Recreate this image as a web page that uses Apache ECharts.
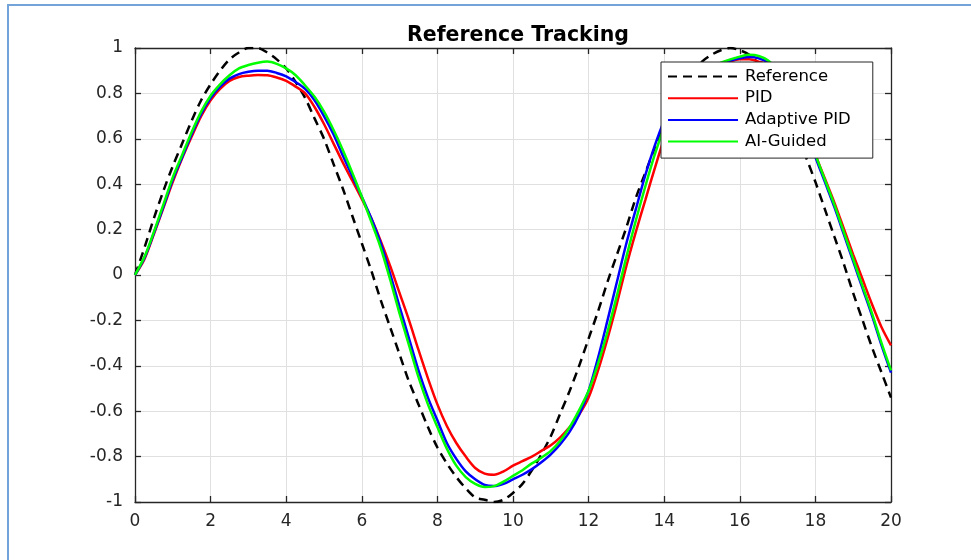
<!DOCTYPE html>
<html>
<head>
<meta charset="utf-8">
<script src="https://cdn.jsdelivr.net/npm/echarts@6/dist/echarts.min.js"></script>
<style>
html,body{margin:0;padding:0;background:#fff;}
#chart{width:971px;height:560px;}
</style>
</head>
<body>
<div id="chart"></div>
<script>
// ---- data (t step 0.25) ----
var time = [0,0.25,0.5,0.75, 1,1.25,1.5,1.75, 2,2.25,2.5,2.75, 3,3.25,3.5,3.75, 4,4.25,4.5,4.75,
  5,5.25,5.5,5.75, 6,6.25,6.5,6.75, 7,7.25,7.5,7.75, 8,8.25,8.5,8.75, 9,9.25,9.5,9.75,
  10,10.25,10.5,10.75, 11,11.25,11.5,11.75, 12,12.25,12.5,12.75, 13,13.25,13.5,13.75, 14,14.25,14.5,14.75,
  15,15.25,15.5,15.75, 16,16.25,16.5,16.75, 17,17.25,17.5,17.75, 18,18.25,18.5,18.75, 19,19.25,19.5,19.75, 20];
var referenceVals = [0,0.12,0.25,0.37, 0.48,0.58,0.68,0.77, 0.84,0.90,0.95,0.98, 1.0,1.0,0.98,0.95,
  0.91,0.85,0.78,0.69, 0.60,0.49,0.38,0.26, 0.14,0.02,-0.11,-0.23, -0.35,-0.47,-0.57,-0.67,
  -0.76,-0.83,-0.89,-0.94, -0.98,-0.99,-1.0,-0.99, -0.96,-0.92,-0.86,-0.79, -0.71,-0.61,-0.51,-0.40,
  -0.28,-0.16,-0.03,0.09, 0.21,0.34,0.45,0.56, 0.66,0.75,0.82,0.89, 0.94,0.97,0.99,1.0,
  0.99,0.97,0.93,0.87, 0.80,0.72,0.63,0.52, 0.41,0.29,0.17,0.05, -0.08,-0.20,-0.32,-0.43, -0.54];
var pidVals = [0,0.07,0.18,0.295, 0.41,0.515,0.61,0.70, 0.77,0.82,0.855,0.872, 0.878,0.881,0.88,0.87,
  0.855,0.83,0.80,0.74, 0.665,0.58,0.495,0.415, 0.335,0.25,0.15,0.04, -0.08,-0.20,-0.33,-0.455,
  -0.57,-0.665,-0.74,-0.80, -0.85,-0.875,-0.88,-0.865, -0.84,-0.82,-0.80,-0.775, -0.75,-0.715,-0.67,-0.615,
  -0.54,-0.42,-0.28,-0.125, 0.04,0.19,0.33,0.47, 0.60,0.70,0.78,0.83, 0.87,0.90,0.92,0.94,
  0.95,0.95,0.94,0.925, 0.89,0.825,0.74,0.64, 0.53,0.425,0.32,0.205, 0.09,-0.02,-0.13,-0.23, -0.31];
var adaptiveVals = [0,0.075,0.185,0.30, 0.42,0.52,0.62,0.71, 0.78,0.83,0.865,0.885, 0.895,0.90,0.90,0.89,
  0.875,0.85,0.82,0.77, 0.70,0.62,0.525,0.435, 0.345,0.25,0.14,0.005, -0.14,-0.28,-0.42,-0.54,
  -0.64,-0.74,-0.81,-0.865, -0.90,-0.925,-0.93,-0.92, -0.90,-0.88,-0.855,-0.825, -0.79,-0.745,-0.69,-0.615,
  -0.51,-0.365,-0.20,-0.03, 0.14,0.29,0.44,0.57, 0.68,0.76,0.82,0.86, 0.89,0.91,0.93,0.945,
  0.955,0.96,0.955,0.935, 0.895,0.83,0.75,0.64, 0.52,0.41,0.30,0.18, 0.06,-0.06,-0.18,-0.31, -0.43];
var aiVals = [0,0.08,0.19,0.31, 0.43,0.53,0.63,0.72, 0.79,0.84,0.88,0.91, 0.925,0.935,0.94,0.93,
  0.91,0.88,0.835,0.785, 0.72,0.64,0.55,0.45, 0.345,0.235,0.12,-0.02, -0.17,-0.31,-0.45,-0.57,
  -0.67,-0.765,-0.84,-0.89, -0.92,-0.934,-0.93,-0.91, -0.885,-0.86,-0.83,-0.805, -0.775,-0.73,-0.67,-0.595,
  -0.51,-0.39,-0.25,-0.09, 0.08,0.24,0.39,0.53, 0.65,0.74,0.81,0.855, 0.89,0.915,0.935,0.95,
  0.962,0.97,0.965,0.945, 0.905,0.84,0.76,0.65, 0.53,0.42,0.31,0.19, 0.07,-0.05,-0.17,-0.30, -0.42];
var seriesNames = ['Reference','PID','Adaptive PID','AI-Guided'];
var xTicks = [0,2,4,6,8,10,12,14,16,18,20];
var yTicks = [-1,-0.8,-0.6,-0.4,-0.2,0,0.2,0.4,0.6,0.8,1];
var titleText = 'Reference Tracking';

function pairs(vals){ return time.map(function(t,i){ return [t, vals[i]]; }); }

var FONT = 'DejaVu Sans';
var AX = '#262626';
var chart = echarts.init(document.getElementById('chart'), null, {renderer:'canvas'});

var baseX = {
  type:'value', min:xTicks[0], max:xTicks[xTicks.length-1], interval:2,
  axisLine:{show:true, onZero:false, lineStyle:{color:AX, width:1.3}},
  axisTick:{show:true, inside:true, length:6, lineStyle:{color:AX, width:1.3}},
  splitLine:{show:false}
};
var baseY = {
  type:'value', min:yTicks[0], max:yTicks[yTicks.length-1], interval:0.2,
  axisLine:{show:true, onZero:false, lineStyle:{color:AX, width:1.3}},
  axisTick:{show:true, inside:true, length:6, lineStyle:{color:AX, width:1.3}},
  splitLine:{show:false}
};

function lineSeries(name, vals, color, dashed){
  return {
    name:name, type:'line', data:pairs(vals), xAxisIndex:0, yAxisIndex:0,
    symbol:'none', showSymbol:false, smooth:0.3,
    silent:true, animation:false,
    lineStyle:{color:color, width:2.5, type: dashed ? [9,6] : 'solid'},
    itemStyle:{color:color}
  };
}

chart.setOption({
  backgroundColor:'#ffffff',
  animation:false,
  title:{
    text:titleText, left:513, top:20, textAlign:'center',
    textStyle:{fontFamily:FONT, fontSize:20.5, fontWeight:'bold', color:'#000'}
  },
  grid:{left:135, right:80, top:48, bottom:58, containLabel:false},
  xAxis:[
    Object.assign({}, baseX, {
      position:'bottom',
      axisLabel:{show:true, margin:11, color:AX, fontFamily:FONT, fontSize:17},
      splitLine:{show:true, lineStyle:{color:'#e0e0e0', width:1}}
    }),
    Object.assign({}, baseX, {position:'top', axisLabel:{show:false}})
  ],
  yAxis:[
    Object.assign({}, baseY, {
      position:'left',
      axisLabel:{show:true, margin:12, color:AX, fontFamily:FONT, fontSize:17,
        formatter:function(v){ return String(Math.round(v*10)/10); }},
      splitLine:{show:true, lineStyle:{color:'#e0e0e0', width:1}}
    }),
    Object.assign({}, baseY, {position:'right', axisLabel:{show:false}})
  ],
  legend:{
    data:seriesNames, orient:'vertical', left:661, top:62,
    backgroundColor:'#ffffff', borderColor:AX, borderWidth:1,
    padding:[6,22,8,6], itemWidth:70, itemHeight:14, itemGap:4.7,
    itemStyle:{opacity:0},
    textStyle:{fontFamily:FONT, fontSize:16.5, color:'#000', padding:[0,0,0,2]},
    selectedMode:false
  },
  graphic:[{
    type:'polyline', silent:true, z:100,
    shape:{points:[[8,560],[8,5],[971,5]]},
    style:{stroke:'#74a3da', lineWidth:2, fill:null}
  }],
  series:[
    lineSeries(seriesNames[0], referenceVals, '#000000', true),
    lineSeries(seriesNames[1], pidVals, '#ff0000', false),
    lineSeries(seriesNames[2], adaptiveVals, '#0000ff', false),
    lineSeries(seriesNames[3], aiVals, '#00ff00', false)
  ]
});
</script>
</body>
</html>
